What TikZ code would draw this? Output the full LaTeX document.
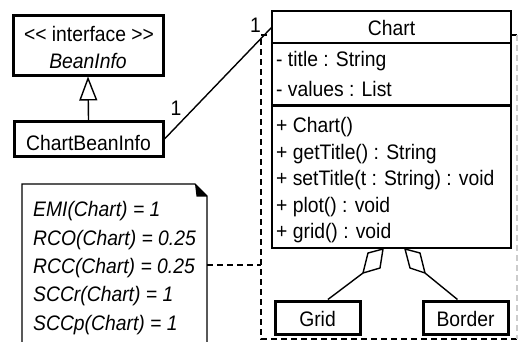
\documentclass[tikz,border=0pt]{standalone}
\usepackage{fontspec}
\setmainfont{Liberation Sans}[FakeStretch=0.92]
\usetikzlibrary{arrows.meta}
\begin{document}
\begin{tikzpicture}[x=1pt,y=-1pt,
  txt/.style={font=\fontsize{21}{25}\selectfont, inner sep=0pt, anchor=base west},
  ctxt/.style={font=\fontsize{21}{25}\selectfont, inner sep=0pt, anchor=base},
  itxt/.style={font=\fontsize{21}{25}\selectfont\itshape, inner sep=0pt, anchor=base west},
  thickbox/.style={draw, line width=3pt, fill=white, inner sep=0pt},
  chartline/.style={line width=2pt},
  link/.style={line width=1.4pt},
  dashline/.style={dash pattern=on 6pt off 4pt, line width=1.8pt},
  notefold/.style={line width=1.2pt},
]
\useasboundingbox (0,0) rectangle (519,341);

% dashed frame (component boundary)
\draw[dashline] (517,35) -- (261,35) -- (261,339) -- (517,339);
\draw[dashline, black!20] (517,35) -- (517,339);
\coordinate (frameL) at (261,265);

% BeanInfo interface
\node[thickbox, minimum width=150pt, minimum height=60pt] (bean) at (88,45) {};
\node[ctxt] (beanst) at (89,41.5) {{<}{<} interface {>}{>}};
\node[ctxt, font=\fontsize{21}{25}\selectfont\itshape] (beanname) at (88,68) {BeanInfo};

% ChartBeanInfo
\node[thickbox, minimum width=149pt, minimum height=35pt] (cbi) at (88.5,139) {};
\node[ctxt] (cbit) at (88.5,150) {ChartBeanInfo};

% generalization
\draw[link, -{Triangle[open, length=24pt, width=18pt, line width=1.4pt]}] (cbi.north) -- (bean.south);

% Chart class
\node[draw, chartline, fill=white, minimum width=239pt, minimum height=237pt, inner sep=0pt] (chart) at (391.5,129.5) {};
\draw[chartline] (chart.west |- 0,43) -- (chart.east |- 0,43);
\draw[line width=3pt] (chart.west |- 0,105) -- (chart.east |- 0,105);
\coordinate (chartw) at (272,27);
\node[ctxt] (charttitle) at (391.5,35) {Chart};
\node[txt] (a1) at (276,66) {- title : String};
\node[txt] (a2) at (276,96) {- values : List};
\node[txt] (o1) at (276,132) {+ Chart()};
\node[txt] (o2) at (276,159) {+ getTitle() : String};
\node[txt] (o3) at (276,185.5) {+ setTitle(t : String) : void};
\node[txt] (o4) at (276,212) {+ plot() : void};
\node[txt] (o5) at (276,238.5) {+ grid() : void};

% association
\draw[link] (cbi.east) -- (chartw);
\node[ctxt] (m1) at (176,115) {1};
\node[ctxt] (m2) at (255.5,32) {1};

% Grid and Border
\node[thickbox, minimum width=85pt, minimum height=33pt] (grid) at (317.5,317.5) {};
\node[ctxt] (gridt) at (317.5,326.5) {Grid};
\node[thickbox, minimum width=85pt, minimum height=33pt] (border) at (465.5,317.5) {};
\node[ctxt] (bordert) at (465.5,326.5) {Border};

\coordinate (gd) at (363,273);
\coordinate (bd) at (425,273);
\draw[link, fill=white] (383,249) -- (368,253) -- (gd) -- (380,268) -- cycle;
\draw[link, fill=white] (405,249) -- (420,253) -- (bd) -- (410,268) -- cycle;
\draw[link] (gd) -- (grid.60);
\draw[link] (bd) -- (border.114);

% note
\draw[notefold, fill=white] (22,343) -- (22,184) -- (195,184) -- (207,196) -- (207,343);
\fill (195,184) -- (207,196.5) -- (196.5,196.5) -- cycle;
\coordinate (noteR) at (207,265);
\node[itxt] (n1) at (33,216.7) {EMI(Chart) = 1};
\node[itxt] (n2) at (33,245) {RCO(Chart) = 0.25};
\node[itxt] (n3) at (33,273.3) {RCC(Chart) = 0.25};
\node[itxt] (n4) at (33,301.6) {SCCr(Chart) = 1};
\node[itxt] (n5) at (33,330) {SCCp(Chart) = 1};
\draw[dashline] (noteR) -- (frameL);
\end{tikzpicture}
\end{document}
